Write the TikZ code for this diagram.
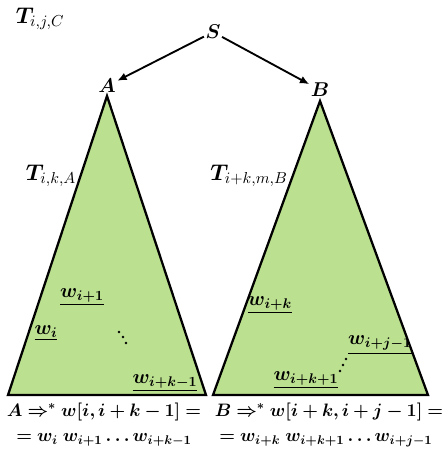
\RequirePackage{fix-cm}
\documentclass[tikz,border=0pt]{standalone}
\usepackage{amsmath}
\usepackage{bm}
\usetikzlibrary{arrows.meta}
\definecolor{treegreen}{RGB}{187,224,143}
\tikzset{
  every node/.style={font=\fontsize{15}{18}\selectfont, inner sep=1pt},
  tree/.style={draw, line width=1.7pt, fill=treegreen, line join=miter}, % the two subtrees
  edge/.style={-{Latex[length=7pt,width=6pt]}, line width=1.4pt},
  tlabel/.style={font=\fontsize{17}{20}\selectfont},
  deriv/.style={font=\fontsize{13.5}{16}\selectfont},
  dot/.style={fill=black},
}

\begin{document}
\begin{tikzpicture}[x=0.75pt,y=-0.75pt]
  \useasboundingbox (0,0) rectangle (445,451);

  % subtrees
  \draw[tree] (107,96) -- (8,395) -- (206,395) -- cycle;
  \draw[tree] (320,101) -- (213,395) -- (428,395) -- cycle;

  \node[tlabel] (tC) at (40,19) {$\bm{T}_{i,j,C}$};
  \node (S) at (213,32) {$\bm{S}$};
  \node (A) at (107,86) {$\bm{A}$};
  \node (B) at (320,90) {$\bm{B}$};

  \draw[edge] (S) -- (A);
  \draw[edge] (S) -- (B);

  \node[tlabel] (tA) at (51,176) {$\bm{T}_{i,k,A}$};
  \node[tlabel] (tB) at (249,176) {$\bm{T}_{i+k,m,B}$};

  % leaves of A
  \node (wi1) at (82,297) {$\underline{\bm{w_{i+1}}}$};
  \node (wi) at (46,333) {$\underline{\bm{w_{i}}}$};
  \node (wik1) at (165,383) {$\underline{\bm{w_{i+k-1}}}$};
  \foreach \p in {(119,332),(123,337),(126,343)}
    \fill[dot] \p circle (1.4);

  % leaves of B
  \node (wik) at (270,305) {$\underline{\bm{w_{i+k}}}$};
  \node (wij1) at (380,345) {$\underline{\bm{w_{i+j-1}}}$};
  \node (wikk) at (306,380) {$\underline{\bm{w_{i+k+1}}}$};
  \foreach \p in {(340,371),(343,365),(346,359)}
    \fill[dot] \p circle (1.4);

  % derivations
  \node[deriv] (derA) at (104,412) {$\bm{A \Rightarrow^{*} w[i, i+k-1] =}$};
  \node[deriv] (seqA) at (104,440) {$\bm{= w_{i}\; w_{i+1} \ldots w_{i+k-1}}$};
  \node[deriv] (derB) at (329,412) {$\bm{B \Rightarrow^{*} w[i+k, i+j-1] =}$};
  \node[deriv] (seqB) at (326,440) {$\bm{= w_{i+k}\; w_{i+k+1} \ldots w_{i+j-1}}$};
\end{tikzpicture}
\end{document}
